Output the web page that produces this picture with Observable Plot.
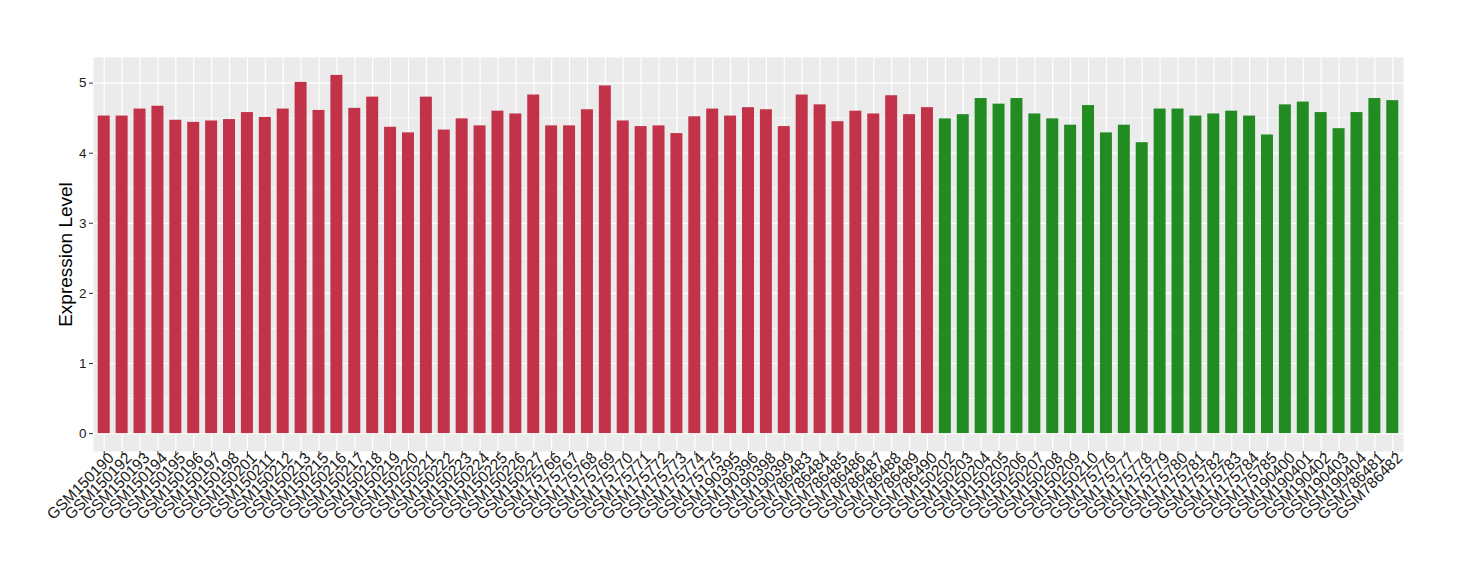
<!DOCTYPE html>
<html><head><meta charset="utf-8">
<script src="https://cdn.jsdelivr.net/npm/d3@7"></script>
<script src="https://cdn.jsdelivr.net/npm/@observablehq/plot@0.6"></script>
<style>body{margin:0;background:#fff;} svg{display:block}</style>
</head><body><div id="chart"></div>
<script>
const groupASamples = ["GSM150190","GSM150192","GSM150193","GSM150194","GSM150195","GSM150196","GSM150197","GSM150198","GSM150201","GSM150211","GSM150212","GSM150213","GSM150215","GSM150216","GSM150217","GSM150218","GSM150219","GSM150220","GSM150221","GSM150222","GSM150223","GSM150224","GSM150225","GSM150226","GSM150227","GSM175766","GSM175767","GSM175768","GSM175769","GSM175770","GSM175771","GSM175772","GSM175773","GSM175774","GSM175775","GSM190395","GSM190396","GSM190398","GSM190399","GSM786483","GSM786484","GSM786485","GSM786486","GSM786487","GSM786488","GSM786489","GSM786490"];
const groupAValues = [4.53,4.53,4.63,4.67,4.47,4.44,4.46,4.48,4.58,4.51,4.63,5.01,4.61,5.11,4.64,4.80,4.37,4.29,4.80,4.33,4.49,4.39,4.60,4.56,4.83,4.39,4.39,4.62,4.96,4.46,4.38,4.39,4.28,4.52,4.63,4.53,4.65,4.62,4.38,4.83,4.69,4.45,4.60,4.56,4.82,4.55,4.65];
const groupBSamples = ["GSM150202","GSM150203","GSM150204","GSM150205","GSM150206","GSM150207","GSM150208","GSM150209","GSM150210","GSM175776","GSM175777","GSM175778","GSM175779","GSM175780","GSM175781","GSM175782","GSM175783","GSM175784","GSM175785","GSM190400","GSM190401","GSM190402","GSM190403","GSM190404","GSM786481","GSM786482"];
const groupBValues = [4.49,4.55,4.78,4.70,4.78,4.56,4.49,4.40,4.68,4.29,4.40,4.15,4.63,4.63,4.53,4.56,4.60,4.53,4.26,4.69,4.73,4.58,4.35,4.58,4.78,4.75];
const yTicks = [0,1,2,3,4,5];
const yMinor = [0.5,1.5,2.5,3.5,4.5];
const colorA = "#C23248", colorB = "#228B22";

const data = [
  ...groupASamples.map((s,i) => ({sample: s, value: groupAValues[i], group: "A"})),
  ...groupBSamples.map((s,i) => ({sample: s, value: groupBValues[i], group: "B"}))
];
const order = data.map(d => d.sample);
const vmax = d3.max(data, d => d.value);
const pad = vmax * 0.05;

const chart = Plot.plot({
  width: 1460, height: 580,
  marginLeft: 93, marginRight: 57, marginTop: 57, marginBottom: 129,
  style: {fontFamily: "'Liberation Sans', Arial, sans-serif", background: "#fff", overflow: "visible"},
  x: {type: "band", domain: order, paddingInner: 0.33, paddingOuter: 0.265, label: null},
  y: {domain: [-pad, vmax + pad], label: null},
  color: {domain: ["A","B"], range: [colorA, colorB]},
  marks: [
    Plot.frame({fill: "#EBEBEB", stroke: null}),
    Plot.ruleY(yMinor, {stroke: "#fff", strokeWidth: 0.6}),
    Plot.ruleY(yTicks, {stroke: "#fff", strokeWidth: 1.2}),
    Plot.ruleX(order, {x: d => d, stroke: "#fff", strokeWidth: 1.2}),
    Plot.barY(data, {x: "sample", y: "value", fill: "group"}),
    Plot.axisY(yTicks, {tickSize: 4, tickPadding: 3, fontSize: 13.5, tickFormat: d3.format("d"), color: "#1a1a1a", stroke: "#333", label: null}),
    Plot.axisX({tickSize: 4, stroke: "#333", tickFormat: null, label: null}),
    Plot.axisX({tickSize: 0, tickRotate: -45, tickPadding: 2, dx: 7, dy: 2, fontSize: 15.5, color: "#1a1a1a", label: null}),
    Plot.text(["Expression Level"], {frameAnchor: "left", textAnchor: "middle", rotate: -90, dx: -28, fontSize: 19, fill: "#000"})
  ]
});
document.getElementById("chart").appendChild(chart);
</script>
</body></html>
